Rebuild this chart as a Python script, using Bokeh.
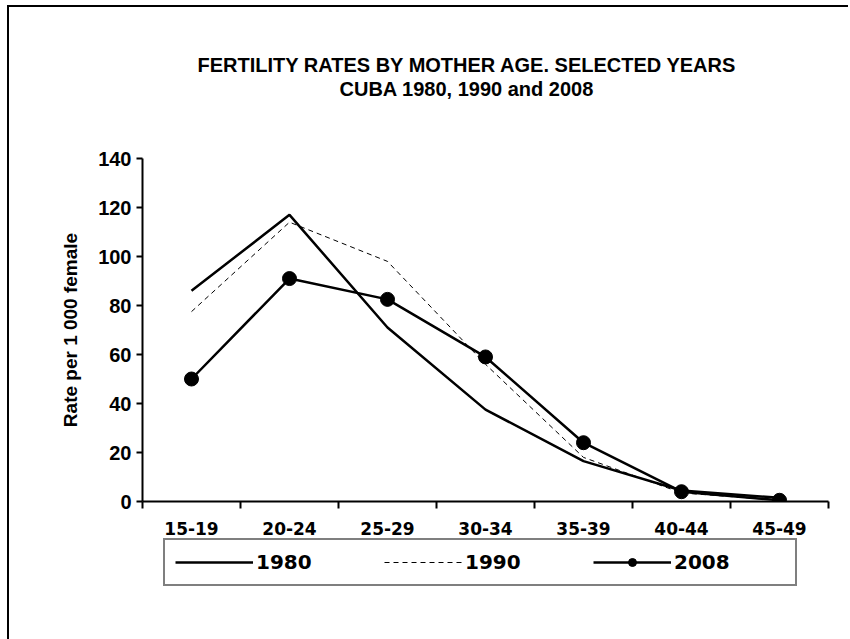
from bokeh.plotting import figure
from bokeh.layouts import column
from bokeh.models import (Range1d, FixedTicker, Legend, LegendItem, Title)
from bokeh.embed import file_html
from bokeh.resources import INLINE

ages = ["15-19", "20-24", "25-29", "30-34", "35-39", "40-44", "45-49"]
r1980 = [86, 117, 71, 37.5, 16.5, 4.5, 1.5]
r1990 = [77.5, 114, 98, 56, 18, 3.5, 0.5]
r2008 = [50, 91, 82.5, 59, 24, 4, 0.5]
yticks = [0, 20, 40, 60, 80, 100, 120, 140]
series_names = ["1980", "1990", "2008"]
title1 = "FERTILITY RATES BY MOTHER AGE. SELECTED YEARS"
title2 = "CUBA 1980, 1990 and 2008"
ylabel = "Rate per 1 000 female"

xpos = [i + 0.5 for i in range(len(ages))]

p = figure(frame_width=686, frame_height=343, output_backend="svg", toolbar_location=None,
           x_range=Range1d(0, len(ages)), y_range=Range1d(0, 140),
           min_border_left=133, min_border_right=20, min_border_top=151,
           min_border_bottom=34, title=None)
p.outline_line_color = None
p.xgrid.visible = False
p.ygrid.visible = False
p.background_fill_color = "white"
p.border_fill_color = "white"

# x axis: labels at category centres, ticks at boundaries
xa = p.xaxis[0]
xa.ticker = FixedTicker(ticks=xpos, minor_ticks=list(range(len(ages) + 1)))
xa.major_label_overrides = {x: a for x, a in zip(xpos, ages)}
xa.major_tick_out = 0
xa.major_tick_in = 0
xa.minor_tick_out = 7
xa.minor_tick_in = 0
xa.minor_tick_line_width = 2
xa.minor_tick_line_color = "black"
xa.axis_line_width = 2
xa.axis_line_color = "black"
xa.major_label_standoff = 13
xa.major_label_text_font = "DejaVu Sans"
xa.major_label_text_font_style = "bold"
xa.major_label_text_font_size = "17px"
xa.major_label_text_color = "black"

ya = p.yaxis[0]
ya.ticker = FixedTicker(ticks=yticks, minor_ticks=[])
ya.major_tick_out = 6
ya.major_tick_in = 0
ya.major_tick_line_width = 2
ya.axis_line_width = 2
ya.axis_line_color = "black"
ya.major_label_standoff = 5
ya.major_label_text_font = "Liberation Sans"
ya.major_label_text_font_style = "bold"
ya.major_label_text_font_size = "20px"
ya.major_label_text_color = "black"
ya.axis_label = ylabel
ya.axis_label_text_font = "Liberation Sans"
ya.axis_label_text_font_style = "bold"
ya.axis_label_text_font_size = "19px"
ya.axis_label_text_color = "black"
ya.axis_label_standoff = 14

styles = [dict(line_color="black", line_width=2.5),
          dict(line_color="black", line_width=1, line_dash="5 4"),
          dict(line_color="black", line_width=2.5)]
marker_style = dict(size=14, marker="circle", fill_color="black", line_color="black")

p.line(xpos, r1980, **styles[0])
p.line(xpos, r1990, **styles[1])
p.line(xpos, r2008, **styles[2])
p.scatter(xpos, r2008, **marker_style)

spacer = Title(text=".", standoff=56, text_font_size="2px", text_color="white")
t2 = Title(text=title2, align="left", offset=197, standoff=0,
           text_font="Liberation Sans", text_font_style="bold",
           text_font_size="20px", text_color="black")
t1 = Title(text=title1, align="left", offset=55, standoff=0,
           text_font="Liberation Sans", text_font_style="bold",
           text_font_size="20px", text_color="black")
p.add_layout(spacer, "above")
p.add_layout(t2, "above")
p.add_layout(t1, "above")

# legend strip below the chart (its frame is aligned with the chart frame);
# the series are drawn again here but kept out of view by the range
p2 = figure(width=839, height=102, output_backend="svg", toolbar_location=None,
            x_axis_location=None, y_axis_location=None,
            x_range=Range1d(0, len(ages)), y_range=Range1d(-2, -1),
            min_border=0, title=None)
p2.outline_line_color = None
p2.xgrid.visible = False
p2.ygrid.visible = False
lg1 = p2.line(xpos, r1980, **styles[0])
lg2 = p2.line(xpos, r1990, **styles[1])
lg3 = p2.line(xpos, r2008, **styles[2])
lg3m = p2.scatter(xpos, r2008, **marker_style)

legend = Legend(items=[LegendItem(label=series_names[0], renderers=[lg1]),
                       LegendItem(label=series_names[1], renderers=[lg2]),
                       LegendItem(label=series_names[2], renderers=[lg3, lg3m])],
                orientation="horizontal", location=(21, 53), margin=0,
                glyph_width=78, glyph_height=20, label_standoff=3,
                label_width=111, spacing=17, padding=10,
                border_line_color="black", border_line_width=2,
                background_fill_color="white", background_fill_alpha=1,
                label_text_font="DejaVu Sans", label_text_font_style="bold",
                label_text_font_size="20px", label_text_color="black")
p2.add_layout(legend, "center")

layout = column(p, p2, spacing=0)
layout.styles = {"border-top": "2px solid black", "border-left": "2px solid black",
                 "margin-left": "7px", "margin-top": "5px"}

open("out.html", "w").write(file_html(layout, INLINE))
